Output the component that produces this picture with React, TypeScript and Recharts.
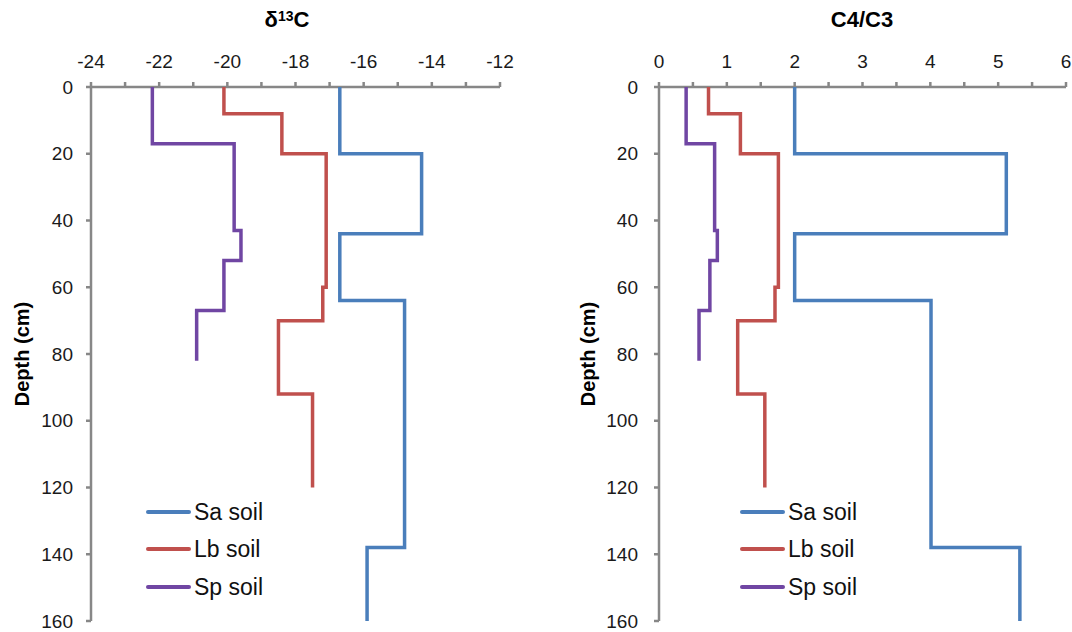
import React from 'react';
import { ScatterChart, Scatter, XAxis, YAxis, Legend } from 'recharts';

const FONT = '"Liberation Sans", Arial, sans-serif';

const seriesNames = ['Sa soil', 'Lb soil', 'Sp soil'];
const seriesColors = ['#4a7ebb', '#c0504d', '#7046a3'];

const depthTicks = [0, 20, 40, 60, 80, 100, 120, 140, 160];
const d13cTicks = [-24, -23, -22, -21, -20, -19, -18, -17, -16, -15, -14, -13, -12];
const ratioTicks = [0, 0.5, 1, 1.5, 2, 2.5, 3, 3.5, 4, 4.5, 5, 5.5, 6];

// layer boundaries (cm) and the value held within each layer
const saDepths = [0, 20, 44, 64, 138, 160];
const saD13c = [-16.7, -14.3, -16.7, -14.8, -15.9];
const saRatio = [2.0, 5.12, 2.0, 4.01, 5.32];

const lbDepths = [0, 8, 20, 60, 70, 92, 120];
const lbD13c = [-20.1, -18.4, -17.1, -17.2, -18.5, -17.5];
const lbRatio = [0.73, 1.2, 1.76, 1.71, 1.16, 1.56];

const spDepths = [0, 17, 43, 52, 67, 82];
const spD13c = [-22.2, -19.8, -19.6, -20.1, -20.9];
const spRatio = [0.4, 0.82, 0.86, 0.75, 0.59];

// turn layers into a step profile: two points per layer
function toSteps(depths: number[], values: number[]) {
  const pts: { x: number; y: number }[] = [];
  values.forEach((v, i) => {
    pts.push({ x: v, y: depths[i] });
    pts.push({ x: v, y: depths[i + 1] });
  });
  return pts;
}

const d13cSeries = [toSteps(saDepths, saD13c), toSteps(lbDepths, lbD13c), toSteps(spDepths, spD13c)];
const ratioSeries = [toSteps(saDepths, saRatio), toSteps(lbDepths, lbRatio), toSteps(spDepths, spRatio)];

const axisColor = '#878787';
const tickStyle = { fontSize: 19, fill: '#1a1a1a', fontFamily: FONT };

function DepthLabel({ viewBox, cx }: any) {
  const cy = viewBox.y + viewBox.height / 2;
  return (
    <text
      x={cx}
      y={cy}
      transform={`rotate(-90 ${cx} ${cy})`}
      textAnchor="middle"
      dominantBaseline="central"
      style={{ fontSize: 20, fontWeight: 'bold', fontFamily: FONT, fill: '#000' }}
    >
      Depth (cm)
    </text>
  );
}

const renderLegend = ({ payload }: any) => {
  const items = [...(payload || [])].sort(
    (a: any, b: any) => seriesNames.indexOf(a.value) - seriesNames.indexOf(b.value)
  );
  return (
    <div>
      {items.map((p: any) => (
        <div key={p.value} style={{ display: 'flex', alignItems: 'center', height: 37.5 }}>
          <span style={{ display: 'inline-block', width: 45, height: 4, borderRadius: 2, background: p.color, marginRight: 3 }} />
          <span style={{ fontSize: 23, fontFamily: FONT, color: '#111', lineHeight: '26px' }}>{p.value}</span>
        </div>
      ))}
    </div>
  );
};

interface PanelProps {
  series: { x: number; y: number }[][];
  xTicks: number[];
  xDomain: [number, number];
  labelEvery: number;
  yAxisWidth: number;
  rightMargin: number;
  tickGap: number;
  labelX: number;
  legendLeft: number;
}

function Panel({ series, xTicks, xDomain, labelEvery, yAxisWidth, rightMargin, tickGap, labelX, legendLeft }: PanelProps) {
  return (
    <ScatterChart width={536} height={632} margin={{ top: 47, right: rightMargin, bottom: 11, left: 0 }}>
      <XAxis
        type="number"
        dataKey="x"
        orientation="top"
        domain={xDomain}
        ticks={xTicks}
        interval={0}
        height={40}
        tickFormatter={(v: number) => (Number.isInteger(v / labelEvery) ? String(v) : '')}
        tick={tickStyle}
        tickSize={5}
        tickMargin={14}
        axisLine={{ stroke: axisColor, strokeWidth: 2.5 }}
        tickLine={{ stroke: axisColor, strokeWidth: 2.5 }}
      />
      <YAxis
        type="number"
        dataKey="y"
        reversed
        domain={[0, 160]}
        ticks={depthTicks}
        interval={0}
        width={yAxisWidth}
        tick={tickStyle}
        tickSize={5}
        tickMargin={tickGap}
        axisLine={{ stroke: axisColor, strokeWidth: 2.5 }}
        tickLine={{ stroke: axisColor, strokeWidth: 2.5 }}
        label={<DepthLabel cx={labelX} />}
      />
      <Legend
        layout="vertical"
        align="center"
        verticalAlign="middle"
        content={renderLegend}
        wrapperStyle={{ left: legendLeft, top: 493, width: 'auto' }}
      />
      {series.map((pts, i) => (
        <Scatter
          key={seriesNames[i]}
          name={seriesNames[i]}
          data={pts}
          fill={seriesColors[i]}
          line={{ stroke: seriesColors[i], strokeWidth: 3.5 }}
          lineType="joint"
          shape={() => <g />}
          isAnimationActive={false}
        />
      ))}
    </ScatterChart>
  );
}

export default function App() {
  return (
    <div style={{ position: 'absolute', left: 0, top: 0, width: 1072, height: 632, background: '#fff' }}>
      <div style={{ position: 'absolute', left: 187, width: 200, top: 6, textAlign: 'center', fontFamily: FONT, fontWeight: 'bold', fontSize: 22, lineHeight: '28px' }}>
        δ<sup style={{ fontSize: 14, verticalAlign: 'top', lineHeight: '20px' }}>13</sup>C
      </div>
      <div style={{ position: 'absolute', left: 762, width: 200, top: 6, textAlign: 'center', fontFamily: FONT, fontWeight: 'bold', fontSize: 22, lineHeight: '28px' }}>
        C4/C3
      </div>
      <div style={{ position: 'absolute', left: 0, top: 0 }}>
        <Panel
          series={d13cSeries}
          xTicks={d13cTicks}
          xDomain={[-24, -12]}
          labelEvery={2}
          yAxisWidth={91}
          rightMargin={36}
          tickGap={13}
          labelX={22}
          legendLeft={146}
        />
      </div>
      <div style={{ position: 'absolute', left: 536, top: 0 }}>
        <Panel
          series={ratioSeries}
          xTicks={ratioTicks}
          xDomain={[0, 6]}
          labelEvery={1}
          yAxisWidth={123}
          rightMargin={6}
          tickGap={16}
          labelX={52}
          legendLeft={204}
        />
      </div>
    </div>
  );
}
